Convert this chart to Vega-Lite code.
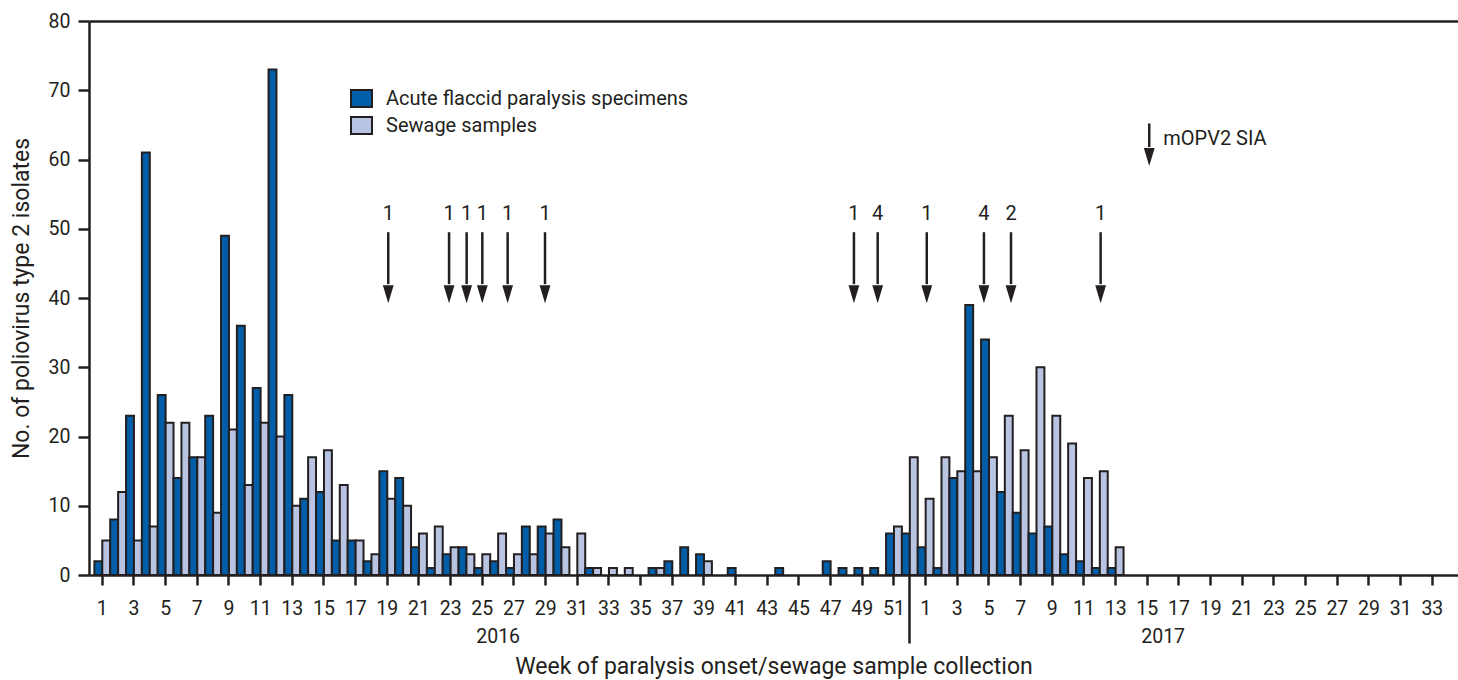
{
  "$schema": "https://vega.github.io/schema/vega-lite/v6.json",
  "width": 1369,
  "height": 554,
  "autosize": {"type": "none"},
  "padding": {"left": 89, "top": 21, "right": 0, "bottom": 105},
  "background": "white",
  "config": {"view": {"stroke": null}, "font": "Roboto"},
  "resolve": {"scale": {"x": "independent"}},
  "layer": [
    {
      "data": {"values": [
        {"week": "2016-01", "source": "Acute flaccid paralysis specimens", "count": 2},
        {"week": "2016-01", "source": "Sewage samples", "count": 5},
        {"week": "2016-02", "source": "Acute flaccid paralysis specimens", "count": 8},
        {"week": "2016-02", "source": "Sewage samples", "count": 12},
        {"week": "2016-03", "source": "Acute flaccid paralysis specimens", "count": 23},
        {"week": "2016-03", "source": "Sewage samples", "count": 5},
        {"week": "2016-04", "source": "Acute flaccid paralysis specimens", "count": 61},
        {"week": "2016-04", "source": "Sewage samples", "count": 7},
        {"week": "2016-05", "source": "Acute flaccid paralysis specimens", "count": 26},
        {"week": "2016-05", "source": "Sewage samples", "count": 22},
        {"week": "2016-06", "source": "Acute flaccid paralysis specimens", "count": 14},
        {"week": "2016-06", "source": "Sewage samples", "count": 22},
        {"week": "2016-07", "source": "Acute flaccid paralysis specimens", "count": 17},
        {"week": "2016-07", "source": "Sewage samples", "count": 17},
        {"week": "2016-08", "source": "Acute flaccid paralysis specimens", "count": 23},
        {"week": "2016-08", "source": "Sewage samples", "count": 9},
        {"week": "2016-09", "source": "Acute flaccid paralysis specimens", "count": 49},
        {"week": "2016-09", "source": "Sewage samples", "count": 21},
        {"week": "2016-10", "source": "Acute flaccid paralysis specimens", "count": 36},
        {"week": "2016-10", "source": "Sewage samples", "count": 13},
        {"week": "2016-11", "source": "Acute flaccid paralysis specimens", "count": 27},
        {"week": "2016-11", "source": "Sewage samples", "count": 22},
        {"week": "2016-12", "source": "Acute flaccid paralysis specimens", "count": 73},
        {"week": "2016-12", "source": "Sewage samples", "count": 20},
        {"week": "2016-13", "source": "Acute flaccid paralysis specimens", "count": 26},
        {"week": "2016-13", "source": "Sewage samples", "count": 10},
        {"week": "2016-14", "source": "Acute flaccid paralysis specimens", "count": 11},
        {"week": "2016-14", "source": "Sewage samples", "count": 17},
        {"week": "2016-15", "source": "Acute flaccid paralysis specimens", "count": 12},
        {"week": "2016-15", "source": "Sewage samples", "count": 18},
        {"week": "2016-16", "source": "Acute flaccid paralysis specimens", "count": 5},
        {"week": "2016-16", "source": "Sewage samples", "count": 13},
        {"week": "2016-17", "source": "Acute flaccid paralysis specimens", "count": 5},
        {"week": "2016-17", "source": "Sewage samples", "count": 5},
        {"week": "2016-18", "source": "Acute flaccid paralysis specimens", "count": 2},
        {"week": "2016-18", "source": "Sewage samples", "count": 3},
        {"week": "2016-19", "source": "Acute flaccid paralysis specimens", "count": 15},
        {"week": "2016-19", "source": "Sewage samples", "count": 11},
        {"week": "2016-20", "source": "Acute flaccid paralysis specimens", "count": 14},
        {"week": "2016-20", "source": "Sewage samples", "count": 10},
        {"week": "2016-21", "source": "Acute flaccid paralysis specimens", "count": 4},
        {"week": "2016-21", "source": "Sewage samples", "count": 6},
        {"week": "2016-22", "source": "Acute flaccid paralysis specimens", "count": 1},
        {"week": "2016-22", "source": "Sewage samples", "count": 7},
        {"week": "2016-23", "source": "Acute flaccid paralysis specimens", "count": 3},
        {"week": "2016-23", "source": "Sewage samples", "count": 4},
        {"week": "2016-24", "source": "Acute flaccid paralysis specimens", "count": 4},
        {"week": "2016-24", "source": "Sewage samples", "count": 3},
        {"week": "2016-25", "source": "Acute flaccid paralysis specimens", "count": 1},
        {"week": "2016-25", "source": "Sewage samples", "count": 3},
        {"week": "2016-26", "source": "Acute flaccid paralysis specimens", "count": 2},
        {"week": "2016-26", "source": "Sewage samples", "count": 6},
        {"week": "2016-27", "source": "Acute flaccid paralysis specimens", "count": 1},
        {"week": "2016-27", "source": "Sewage samples", "count": 3},
        {"week": "2016-28", "source": "Acute flaccid paralysis specimens", "count": 7},
        {"week": "2016-28", "source": "Sewage samples", "count": 3},
        {"week": "2016-29", "source": "Acute flaccid paralysis specimens", "count": 7},
        {"week": "2016-29", "source": "Sewage samples", "count": 6},
        {"week": "2016-30", "source": "Acute flaccid paralysis specimens", "count": 8},
        {"week": "2016-30", "source": "Sewage samples", "count": 4},
        {"week": "2016-31", "source": "Sewage samples", "count": 6},
        {"week": "2016-32", "source": "Acute flaccid paralysis specimens", "count": 1},
        {"week": "2016-32", "source": "Sewage samples", "count": 1},
        {"week": "2016-33", "source": "Sewage samples", "count": 1},
        {"week": "2016-34", "source": "Sewage samples", "count": 1},
        {"week": "2016-36", "source": "Acute flaccid paralysis specimens", "count": 1},
        {"week": "2016-36", "source": "Sewage samples", "count": 1},
        {"week": "2016-37", "source": "Acute flaccid paralysis specimens", "count": 2},
        {"week": "2016-38", "source": "Acute flaccid paralysis specimens", "count": 4},
        {"week": "2016-39", "source": "Acute flaccid paralysis specimens", "count": 3},
        {"week": "2016-39", "source": "Sewage samples", "count": 2},
        {"week": "2016-41", "source": "Acute flaccid paralysis specimens", "count": 1},
        {"week": "2016-44", "source": "Acute flaccid paralysis specimens", "count": 1},
        {"week": "2016-47", "source": "Acute flaccid paralysis specimens", "count": 2},
        {"week": "2016-48", "source": "Acute flaccid paralysis specimens", "count": 1},
        {"week": "2016-49", "source": "Acute flaccid paralysis specimens", "count": 1},
        {"week": "2016-50", "source": "Acute flaccid paralysis specimens", "count": 1},
        {"week": "2016-51", "source": "Acute flaccid paralysis specimens", "count": 6},
        {"week": "2016-51", "source": "Sewage samples", "count": 7},
        {"week": "2016-52", "source": "Acute flaccid paralysis specimens", "count": 6},
        {"week": "2016-52", "source": "Sewage samples", "count": 17},
        {"week": "2017-01", "source": "Acute flaccid paralysis specimens", "count": 4},
        {"week": "2017-01", "source": "Sewage samples", "count": 11},
        {"week": "2017-02", "source": "Acute flaccid paralysis specimens", "count": 1},
        {"week": "2017-02", "source": "Sewage samples", "count": 17},
        {"week": "2017-03", "source": "Acute flaccid paralysis specimens", "count": 14},
        {"week": "2017-03", "source": "Sewage samples", "count": 15},
        {"week": "2017-04", "source": "Acute flaccid paralysis specimens", "count": 39},
        {"week": "2017-04", "source": "Sewage samples", "count": 15},
        {"week": "2017-05", "source": "Acute flaccid paralysis specimens", "count": 34},
        {"week": "2017-05", "source": "Sewage samples", "count": 17},
        {"week": "2017-06", "source": "Acute flaccid paralysis specimens", "count": 12},
        {"week": "2017-06", "source": "Sewage samples", "count": 23},
        {"week": "2017-07", "source": "Acute flaccid paralysis specimens", "count": 9},
        {"week": "2017-07", "source": "Sewage samples", "count": 18},
        {"week": "2017-08", "source": "Acute flaccid paralysis specimens", "count": 6},
        {"week": "2017-08", "source": "Sewage samples", "count": 30},
        {"week": "2017-09", "source": "Acute flaccid paralysis specimens", "count": 7},
        {"week": "2017-09", "source": "Sewage samples", "count": 23},
        {"week": "2017-10", "source": "Acute flaccid paralysis specimens", "count": 3},
        {"week": "2017-10", "source": "Sewage samples", "count": 19},
        {"week": "2017-11", "source": "Acute flaccid paralysis specimens", "count": 2},
        {"week": "2017-11", "source": "Sewage samples", "count": 14},
        {"week": "2017-12", "source": "Acute flaccid paralysis specimens", "count": 1},
        {"week": "2017-12", "source": "Sewage samples", "count": 15},
        {"week": "2017-13", "source": "Acute flaccid paralysis specimens", "count": 1},
        {"week": "2017-13", "source": "Sewage samples", "count": 4}
      ]},
      "mark": {"type": "bar", "stroke": "#231f20", "strokeWidth": 2},
      "encoding": {
        "x": {
          "field": "week",
          "type": "ordinal",
          "scale": {
            "domain": ["2016-01","2016-02","2016-03","2016-04","2016-05","2016-06","2016-07","2016-08","2016-09","2016-10","2016-11","2016-12","2016-13","2016-14","2016-15","2016-16","2016-17","2016-18","2016-19","2016-20","2016-21","2016-22","2016-23","2016-24","2016-25","2016-26","2016-27","2016-28","2016-29","2016-30","2016-31","2016-32","2016-33","2016-34","2016-35","2016-36","2016-37","2016-38","2016-39","2016-40","2016-41","2016-42","2016-43","2016-44","2016-45","2016-46","2016-47","2016-48","2016-49","2016-50","2016-51","2016-52","2017-01","2017-02","2017-03","2017-04","2017-05","2017-06","2017-07","2017-08","2017-09","2017-10","2017-11","2017-12","2017-13","2017-14","2017-15","2017-16","2017-17","2017-18","2017-19","2017-20","2017-21","2017-22","2017-23","2017-24","2017-25","2017-26","2017-27","2017-28","2017-29","2017-30","2017-31","2017-32","2017-33","2017-34"],
            "paddingInner": 0,
            "paddingOuter": 0.23,
            "align": 0.737
          },
          "axis": {
            "values": ["2016-01","2016-03","2016-05","2016-07","2016-09","2016-11","2016-13","2016-15","2016-17","2016-19","2016-21","2016-23","2016-25","2016-26","2016-27","2016-29","2016-31","2016-33","2016-35","2016-37","2016-39","2016-41","2016-43","2016-45","2016-47","2016-49","2016-51","2016-52","2017-01","2017-03","2017-05","2017-07","2017-09","2017-11","2017-13","2017-15","2017-16","2017-17","2017-19","2017-21","2017-23","2017-25","2017-27","2017-29","2017-31","2017-33"],
            "labelExpr": "datum.value == '2016-26' ? ['', '2016'] : datum.value == '2017-16' ? ['', '2017'] : datum.value == '2016-52' ? '' : '' + toNumber(slice(datum.value, 5))",
            "labelAngle": 0,
            "labelFontSize": 19.5,
            "labelColor": "#231f20",
            "labelPadding": 14,
            "labelLineHeight": 28,
            "labelOverlap": false,
            "labelBound": false,
            "tickSize": {"condition": {"test": "datum.value == '2016-52'", "value": 68}, "value": 10},
            "tickOpacity": {"condition": {"test": "datum.value == '2016-26' || datum.value == '2017-16'", "value": 0}, "value": 1},
            "tickWidth": 2.5,
            "tickColor": "#231f20",
            "domainColor": "#231f20",
            "domainWidth": 2.5,
            "grid": false,
            "title": "Week of paralysis onset/sewage sample collection",
            "titleFontSize": 23,
            "titleFontWeight": "normal",
            "titleColor": "#231f20",
            "titleBaseline": "top",
            "titleY": 80
          }
        },
        "xOffset": {
          "field": "source",
          "type": "nominal",
          "scale": {"domain": ["Acute flaccid paralysis specimens", "Sewage samples"], "paddingInner": 0, "paddingOuter": 0}
        },
        "y": {
          "field": "count",
          "type": "quantitative",
          "scale": {"domain": [0, 80], "nice": false},
          "axis": {
            "values": [0, 10, 20, 30, 40, 50, 60, 70, 80],
            "tickSize": 11,
            "tickWidth": 2.5,
            "tickColor": "#231f20",
            "domainColor": "#231f20",
            "domainWidth": 2.5,
            "labelFontSize": 19.5,
            "labelColor": "#231f20",
            "labelPadding": 8,
            "grid": true,
            "gridColor": "#231f20",
            "gridWidth": 2.5,
            "gridOpacity": {"condition": {"test": "datum.value == 80", "value": 1}, "value": 0},
            "title": "No. of poliovirus type 2 isolates",
            "titleFontSize": 23,
            "titleFontWeight": "normal",
            "titleColor": "#231f20",
            "titlePadding": 15
          }
        },
        "color": {
          "field": "source",
          "type": "nominal",
          "scale": {"domain": ["Acute flaccid paralysis specimens", "Sewage samples"], "range": ["#005ea8", "#b8c4e2"]},
          "legend": {
            "orient": "none",
            "legendX": 261,
            "legendY": 66,
            "title": null,
            "symbolType": "M-1,-0.8H1V0.8H-1Z",
            "symbolSize": 441,
            "symbolStrokeColor": "#231f20",
            "symbolStrokeWidth": 2,
            "symbolOpacity": 1,
            "labelFontSize": 20,
            "labelLimit": 0,
            "labelColor": "#231f20",
            "labelOffset": 13,
            "rowPadding": 2
          }
        }
      }
    },
    {
      "layer": [
        {
          "data": {"values": [
            {"pos": 18.06, "n": "1"},
            {"pos": 21.90, "n": "1"},
            {"pos": 23.01, "n": "1"},
            {"pos": 24.00, "n": "1"},
            {"pos": 25.60, "n": "1"},
            {"pos": 27.96, "n": "1"},
            {"pos": 47.47, "n": "1"},
            {"pos": 48.97, "n": "4"},
            {"pos": 52.07, "n": "1"},
            {"pos": 55.68, "n": "4"},
            {"pos": 57.39, "n": "2"},
            {"pos": 63.05, "n": "1"}
          ]},
          "layer": [
            {
              "mark": {"type": "rule", "stroke": "#231f20", "strokeWidth": 2.5},
              "encoding": {
                "x": {"field": "pos", "type": "quantitative", "scale": {"domain": [-0.84, 85.62], "nice": false, "zero": false}, "axis": null},
                "y": {"datum": 49.5, "type": "quantitative"},
                "y2": {"datum": 42}
              }
            },
            {
              "mark": {"type": "point", "shape": "M-0.6,-1L0.6,-1L0,1Z", "filled": true, "size": 324, "color": "#231f20", "opacity": 1},
              "encoding": {
                "x": {"field": "pos", "type": "quantitative", "scale": {"domain": [-0.84, 85.62], "nice": false, "zero": false}, "axis": null},
                "y": {"datum": 40.55, "type": "quantitative"}
              }
            },
            {
              "mark": {"type": "text", "fontSize": 20, "color": "#231f20", "baseline": "alphabetic", "align": "center"},
              "encoding": {
                "x": {"field": "pos", "type": "quantitative", "scale": {"domain": [-0.84, 85.62], "nice": false, "zero": false}, "axis": null},
                "y": {"datum": 51.2, "type": "quantitative"},
                "text": {"field": "n"}
              }
            }
          ]
        },
        {
          "data": {"values": [{"pos": 66.12, "label": "mOPV2 SIA"}]},
          "layer": [
            {
              "mark": {"type": "rule", "stroke": "#231f20", "strokeWidth": 2.5},
              "encoding": {
                "x": {"field": "pos", "type": "quantitative", "scale": {"domain": [-0.84, 85.62], "nice": false, "zero": false}, "axis": null},
                "y": {"datum": 65.2, "type": "quantitative"},
                "y2": {"datum": 61.8}
              }
            },
            {
              "mark": {"type": "point", "shape": "M-0.6,-1L0.6,-1L0,1Z", "filled": true, "size": 324, "color": "#231f20", "opacity": 1},
              "encoding": {
                "x": {"field": "pos", "type": "quantitative", "scale": {"domain": [-0.84, 85.62], "nice": false, "zero": false}, "axis": null},
                "y": {"datum": 60.36, "type": "quantitative"}
              }
            },
            {
              "mark": {"type": "text", "fontSize": 20, "color": "#231f20", "baseline": "alphabetic", "align": "left", "dx": 14},
              "encoding": {
                "x": {"field": "pos", "type": "quantitative", "scale": {"domain": [-0.84, 85.62], "nice": false, "zero": false}, "axis": null},
                "y": {"datum": 62.1, "type": "quantitative"},
                "text": {"field": "label"}
              }
            }
          ]
        }
      ]
    }
  ]
}
